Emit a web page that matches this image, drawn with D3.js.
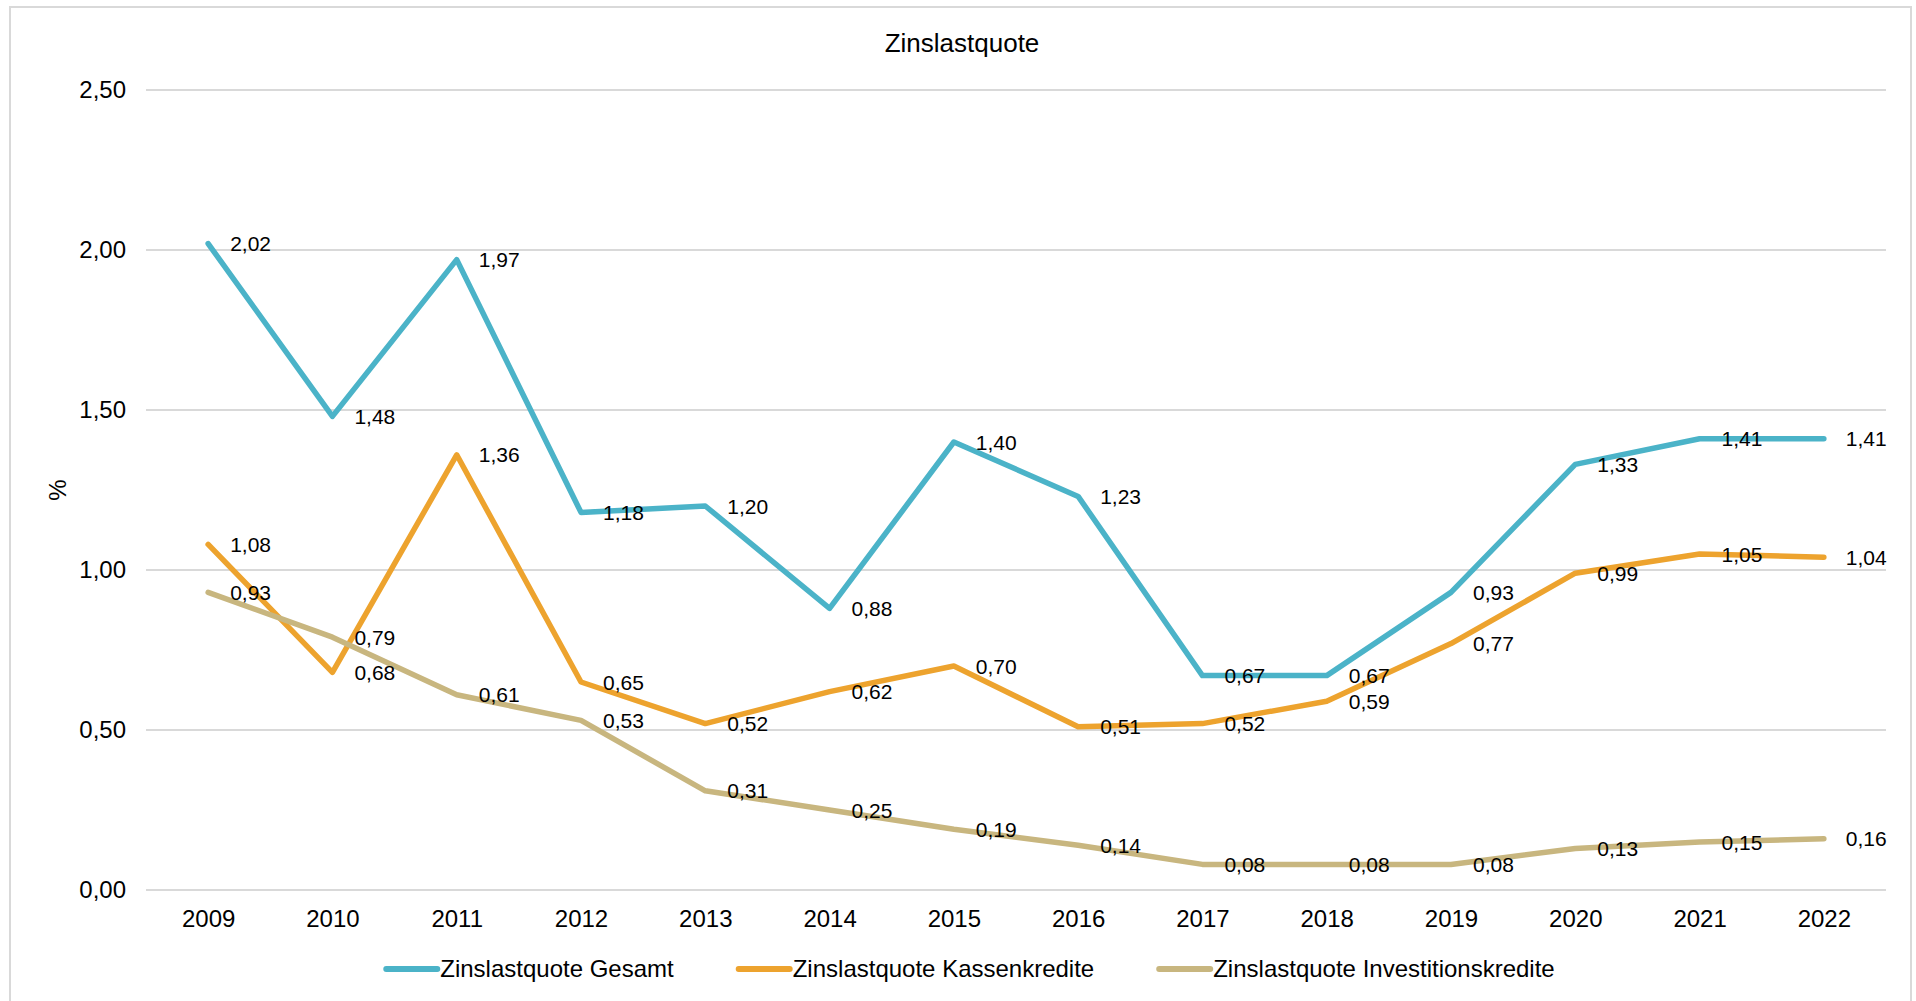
<!DOCTYPE html>
<html lang="de">
<head>
  <meta charset="utf-8">
  <title>Zinslastquote</title>
  <style>
  * { margin:0; padding:0; }
  body { background: #fff; }
  svg text { font-family: "Liberation Sans", Arial, sans-serif; fill: #000; }
  </style>
  <script src="https://d3js.org/d3.v7.min.js"></script>
</head>
<body>
  <div id="chart"></div>
  <script type="text/javascript">
    var years = ["2009","2010","2011","2012","2013","2014","2015","2016","2017","2018","2019","2020","2021","2022"];
    var gesamt = [2.02,1.48,1.97,1.18,1.20,0.88,1.40,1.23,0.67,0.67,0.93,1.33,1.41,1.41];
    var kassen = [1.08,0.68,1.36,0.65,0.52,0.62,0.70,0.51,0.52,0.59,0.77,0.99,1.05,1.04];
    var invest = [0.93,0.79,0.61,0.53,0.31,0.25,0.19,0.14,0.08,0.08,0.08,0.13,0.15,0.16];
    var yTicks = [0, 0.5, 1, 1.5, 2, 2.5];

    var series = [
      {name: "Zinslastquote Gesamt", values: gesamt, color: "#4bb3c8"},
      {name: "Zinslastquote Kassenkredite", values: kassen, color: "#eda32e"},
      {name: "Zinslastquote Investitionskredite", values: invest, color: "#c8b67f"}
    ];

    var width = 1916, height = 1001;
    var svg = d3.select("#chart").append("svg")
      .attr("width", width)
      .attr("height", height);

    // outer frame
    svg.append("rect")
      .attr("x", 10).attr("y", 7)
      .attr("width", 1901).attr("height", 1010)
      .attr("fill", "none")
      .attr("stroke", "#d9d9d9")
      .attr("stroke-width", 2);

    var de = d3.formatLocale({decimal: ",", thousands: ".", grouping: [3], currency: ["", " €"]});
    var fmt = de.format(".2f");

    var x = d3.scalePoint().domain(years).range([146, 1886]).padding(0.5);
    var y = d3.scaleLinear().domain([0, 2.5]).range([890, 90]);

    // gridlines
    svg.append("g").selectAll("line").data(yTicks).join("line")
      .attr("x1", 146).attr("x2", 1886)
      .attr("y1", function(d) { return y(d); })
      .attr("y2", function(d) { return y(d); })
      .attr("stroke", "#d9d9d9")
      .attr("stroke-width", 2);

    // y axis labels
    var yAxis = svg.append("g")
      .attr("transform", "translate(146,0)")
      .call(d3.axisLeft(y).tickValues(yTicks).tickFormat(fmt).tickSize(0).tickPadding(20));
    yAxis.select(".domain").remove();
    yAxis.selectAll("text").style("font-size", "24px").attr("fill", "#000");

    // x axis labels
    var xAxis = svg.append("g")
      .attr("transform", "translate(0,890)")
      .call(d3.axisBottom(x).tickSize(0).tickPadding(20));
    xAxis.select(".domain").remove();
    xAxis.selectAll("text").style("font-size", "24px").attr("fill", "#000");

    // y title
    svg.append("text")
      .attr("transform", "translate(58,490) rotate(-90)")
      .attr("text-anchor", "middle")
      .attr("dy", "0.35em")
      .style("font-size", "24px")
      .text("%");

    // title
    svg.append("text")
      .attr("x", 962).attr("y", 52)
      .attr("text-anchor", "middle")
      .style("font-size", "26px")
      .text("Zinslastquote");

    var line = d3.line()
      .x(function(d, i) { return x(years[i]); })
      .y(function(d) { return y(d); });

    series.forEach(function(s) {
      svg.append("path")
        .datum(s.values)
        .attr("d", line)
        .attr("fill", "none")
        .attr("stroke", s.color)
        .attr("stroke-width", 5.5)
        .attr("stroke-linejoin", "round")
        .attr("stroke-linecap", "round");
    });

    series.forEach(function(s) {
      svg.append("g").selectAll("text").data(s.values).join("text")
        .attr("x", function(d, i) { return x(years[i]) + 22; })
        .attr("y", function(d) { return y(d); })
        .attr("dy", "0.36em")
        .style("font-size", "21px")
        .text(function(d) { return fmt(d); });
    });

    // legend
    var legend = svg.append("g");
    var lx = 0;
    series.forEach(function(s) {
      var g = legend.append("g").attr("transform", "translate(" + lx + ",0)");
      g.append("line")
        .attr("x1", 3).attr("x2", 54)
        .attr("y1", 0).attr("y2", 0)
        .attr("stroke", s.color)
        .attr("stroke-width", 6)
        .attr("stroke-linecap", "round");
      var t = g.append("text")
        .attr("x", 57).attr("dy", "0.35em")
        .style("font-size", "24px")
        .text(s.name);
      lx += 57 + t.node().getComputedTextLength() + 62;
    });
    var legendW = lx - 62;
    legend.attr("transform", "translate(" + (969 - legendW / 2) + ",969)");
  </script>
</body>
</html>
